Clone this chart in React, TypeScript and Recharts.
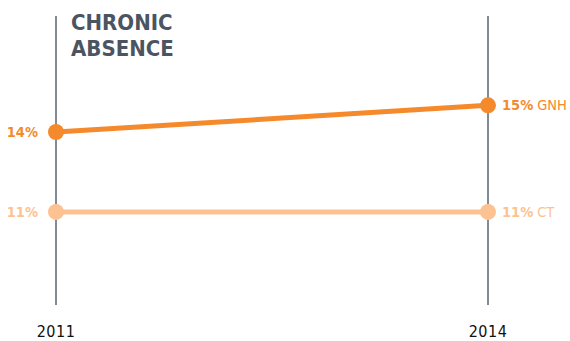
import { LineChart, Line, XAxis, YAxis, ReferenceLine, LabelList } from 'recharts';

const years = [2011, 2014];
const gnhValues = [14, 15];
const ctValues = [11, 11];
const seriesNames = { gnh: 'GNH', ct: 'CT' };

const COLORS = {
  gnh: '#f58a2d',
  ct: '#fdc291',
  axis: '#5b6571',
  title: '#4b5561',
};

const FONT = '"DejaVu Sans Condensed", "Liberation Sans Narrow", Arial, sans-serif';

const data = years.map((year, i) => ({ year, gnh: gnhValues[i], ct: ctValues[i] }));

function makeLabel(color: string, name: string) {
  return (props: any) => {
    const { x, y, value, index } = props;
    if (index === 0) {
      return (
        <text x={x - 18} y={y} dy="0.35em" textAnchor="end" fill={color} fontFamily={FONT} fontSize={14.5} fontWeight="bold">
          {value}%
        </text>
      );
    }
    return (
      <text x={x + 14} y={y} dy="0.35em" textAnchor="start" fill={color} fontFamily={FONT} fontSize={14.5}>
        <tspan fontWeight="bold">{value}%</tspan>
        <tspan dx={4}>{name}</tspan>
      </text>
    );
  };
}

export default function App() {
  return (
    <div style={{ position: 'absolute', left: 0, top: 0, width: 570, height: 341 }}>
      <LineChart width={570} height={341} data={data} margin={{ top: 16, right: 82, bottom: 0, left: 56 }}>
        <XAxis
          dataKey="year"
          type="number"
          domain={[2011, 2014]}
          ticks={years}
          axisLine={false}
          tickLine={false}
          tickSize={0}
          tickMargin={21}
          height={36}
          tick={{ fill: '#111', fontFamily: FONT, fontSize: 16, letterSpacing: 0.5 }}
        />
        <YAxis hide domain={[7.51, 18.35]} />
        {years.map((y) => (
          <ReferenceLine key={y} x={y} stroke={COLORS.axis} strokeWidth={1.5} />
        ))}
        <Line
          dataKey="ct"
          stroke={COLORS.ct}
          strokeWidth={5}
          dot={{ r: 8, fill: COLORS.ct, stroke: 'none' }}
          activeDot={false}
          isAnimationActive={false}
        >
          <LabelList dataKey="ct" content={makeLabel(COLORS.ct, seriesNames.ct)} />
        </Line>
        <Line
          dataKey="gnh"
          stroke={COLORS.gnh}
          strokeWidth={5}
          dot={{ r: 8, fill: COLORS.gnh, stroke: 'none' }}
          activeDot={false}
          isAnimationActive={false}
        >
          <LabelList dataKey="gnh" content={makeLabel(COLORS.gnh, seriesNames.gnh)} />
        </Line>
      </LineChart>
      <div
        style={{
          position: 'absolute',
          left: 71,
          top: 10,
          fontFamily: FONT,
          fontWeight: 'bold',
          fontSize: 22,
          lineHeight: '26px',
          letterSpacing: 0,
          color: COLORS.title,
        }}
      >
        CHRONIC
        <br />
        ABSENCE
      </div>
    </div>
  );
}
